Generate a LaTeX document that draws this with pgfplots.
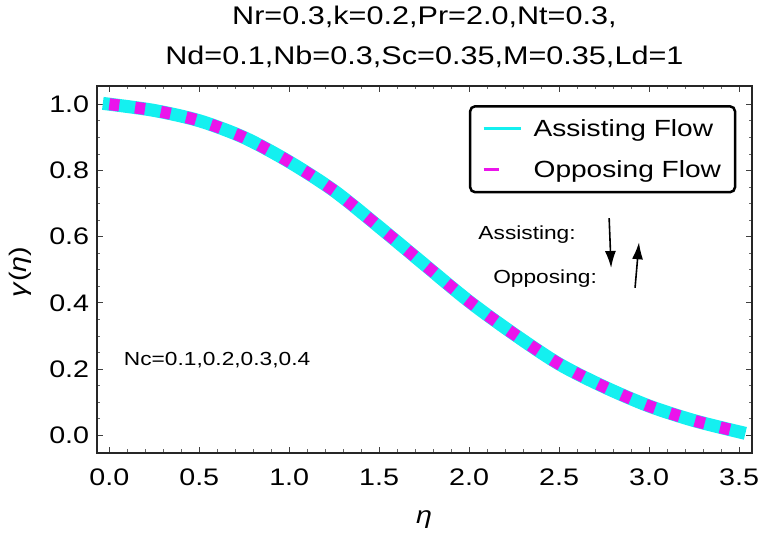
\documentclass[border=0pt]{standalone}
\usepackage{fontspec}
\setmainfont{Liberation Sans}[FakeStretch=1.2]
\usepackage{pgfplots}
\usepackage{pgfplotstable}
\pgfplotsset{compat=1.18}
\usetikzlibrary{arrows.meta}
\definecolor{mycyan}{RGB}{20,240,240}
\definecolor{mymag}{RGB}{235,20,235}
\pgfplotstableread{
eta gamma
0.00 1.000
0.25 0.981
0.50 0.950
0.75 0.899
1.00 0.826
1.25 0.738
1.50 0.629
1.75 0.516
2.00 0.404
2.25 0.305
2.50 0.215
2.75 0.146
3.00 0.088
3.25 0.044
3.50 0.010
}\assisting
\pgfplotstableread{
eta gamma
0.00 1.000
0.25 0.981
0.50 0.950
0.75 0.899
1.00 0.826
1.25 0.738
1.50 0.629
1.75 0.516
2.00 0.404
2.25 0.305
2.50 0.215
2.75 0.146
3.00 0.088
3.25 0.044
3.50 0.010
}\opposing
\begin{document}
\begin{tikzpicture}
\useasboundingbox (0,0) rectangle (771bp,539bp);
\begin{axis}[
  at={(96.7bp,86.3bp)}, anchor=south west,
  scale only axis, width=655.3bp, height=366.7bp,
  xmin=-0.07, xmax=3.572, ymin=-0.053, ymax=1.055,
  xtick={0,0.5,1,1.5,2,2.5,3,3.5},
  ytick={0,0.2,0.4,0.6,0.8,1.0},
  minor x tick num=4, minor y tick num=3,
  tick align=inside,
  xtick pos=both, ytick pos=both,
  major tick length=6bp, minor tick length=3.5bp,
  tick style={black!75, line width=0.8bp},
  minor tick style={black!60, line width=0.6bp},
  axis line style={black!85, line width=2bp},
  /pgf/number format/assume math mode=true,
  /pgf/number format/fixed,
  /pgf/number format/fixed zerofill,
  /pgf/number format/precision=1,
  xticklabel style={font=\fontsize{24}{28}\selectfont, yshift=-13bp},
  yticklabel style={font=\fontsize{24}{28}\selectfont, xshift=-4bp},
  legend style={at={(rel axis cs:0.976,0.948)}, anchor=north east,
    draw=black, line width=2.5bp, rounded corners=5bp, fill=white,
    inner xsep=12bp, inner ysep=11bp,
    font=\fontsize{23.5}{28}\selectfont, row sep=19bp},
  legend cell align=left,
]
\addplot[mycyan, line width=13bp, smooth, line cap=rect, forget plot]
  table[x=eta, y=gamma]{\assisting};
\addplot[mymag, line width=12bp, smooth, dash pattern=on 10bp off 16bp, forget plot]
  table[x=eta, y=gamma]{\opposing};
\addlegendimage{legend image code/.code={\path[draw=none] (0bp,0bp) -- (48bp,0bp); \draw[mycyan, line width=3bp] (0bp,0bp) -- (37bp,0bp);}}
\addlegendentry{Assisting Flow}
\addlegendimage{legend image code/.code={\path[draw=none] (0bp,0bp) -- (48bp,0bp); \draw[mymag, line width=3bp] (0bp,0bp) -- (15bp,0bp);}}
\addlegendentry{Opposing Flow}
\node[font=\fontsize{19}{22}\selectfont] at (axis cs:2.322,0.605) {Assisting:};
\node[font=\fontsize{19}{22}\selectfont] at (axis cs:2.422,0.474) {Opposing:};
\draw[-{Latex[length=17bp,width=11bp]}, line width=1.6bp] (axis cs:2.778,0.656) -- (axis cs:2.789,0.505);
\draw[-{Latex[length=17bp,width=11bp]}, line width=1.6bp] (axis cs:2.922,0.445) -- (axis cs:2.944,0.583);
\node[font=\fontsize{19}{22}\selectfont] at (axis cs:0.599,0.227) {Nc=0.1,0.2,0.3,0.4};
\end{axis}
\node[anchor=base, font=\fontsize{25.6}{30}\selectfont] at (424.4bp,514bp) {Nr=0.3,k=0.2,Pr=2.0,Nt=0.3,};
\node[anchor=base, font=\fontsize{25.6}{30}\selectfont] at (424.4bp,474bp) {Nd=0.1,Nb=0.3,Sc=0.35,M=0.35,Ld=1};
\node[rotate=90, font=\fontsize{24}{28}\selectfont] at (20bp,267bp) {\textit{γ}(\textit{η})};
\node[font=\fontsize{24}{28}\selectfont] at (424bp,19bp) {\textit{η}};
\end{tikzpicture}
\end{document}
